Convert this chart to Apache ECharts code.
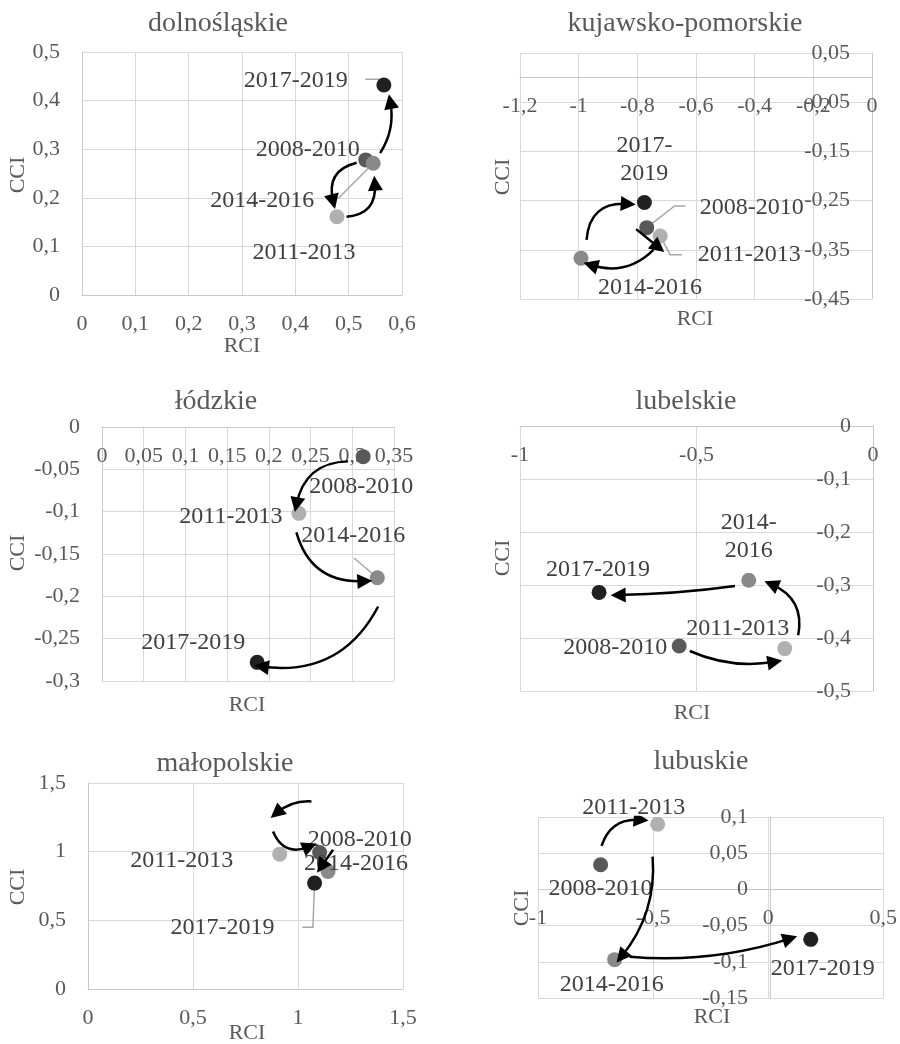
<!DOCTYPE html>
<html>
<head>
<meta charset="utf-8">
<script src="https://cdn.jsdelivr.net/npm/echarts@6/dist/echarts.min.js"></script>
<style>
html,body{margin:0;padding:0;background:#fff;}
#chart{width:900px;height:1044px;}
</style>
</head>
<body>
<div id="chart"></div>
<script>
// ---------- DATA ----------
const regions = ['dolnośląskie', 'kujawsko-pomorskie', 'łódzkie', 'lubelskie', 'małopolskie', 'lubuskie'];
const periods = ['2008-2010', '2011-2013', '2014-2016', '2017-2019'];

const rci_dolnoslaskie = [0.532, 0.478, 0.546, 0.566];
const cci_dolnoslaskie = [0.278, 0.161, 0.271, 0.432];
const rci_kujawsko = [-0.768, -0.722, -0.992, -0.776];
const cci_kujawsko = [-0.305, -0.322, -0.367, -0.254];
const rci_lodzkie = [0.313, 0.236, 0.330, 0.186];
const cci_lodzkie = [-0.035, -0.102, -0.178, -0.278];
const rci_lubelskie = [-0.549, -0.250, -0.352, -0.776];
const cci_lubelskie = [-0.415, -0.420, -0.291, -0.314];
const rci_malopolskie = [1.103, 0.913, 1.143, 1.079];
const cci_malopolskie = [0.994, 0.982, 0.856, 0.771];
const rci_lubuskie = [-0.728, -0.480, -0.667, 0.185];
const cci_lubuskie = [0.034, 0.090, -0.097, -0.069];

const rciAll = [rci_dolnoslaskie, rci_kujawsko, rci_lodzkie, rci_lubelskie, rci_malopolskie, rci_lubuskie];
const cciAll = [cci_dolnoslaskie, cci_kujawsko, cci_lodzkie, cci_lubelskie, cci_malopolskie, cci_lubuskie];

// axis scales (tick labels follow from these)
const xMin = [0, -1.2, 0, -1, 0, -1];
const xMax = [0.6, 0, 0.35, 0, 1.5, 0.5];
const xStep = [0.1, 0.2, 0.05, 0.5, 0.5, 0.5];
const yMin = [0, -0.45, -0.3, -0.5, 0, -0.15];
const yMax = [0.5, 0.05, 0, 0, 1.5, 0.1];
const yStep = [0.1, 0.1, 0.05, 0.1, 0.5, 0.05];

// ---------- LAYOUT / ANNOTATIONS ----------
const grids = [
  {left: 82, top: 52, width: 320, height: 243},
  {left: 520, top: 53, width: 352, height: 246},
  {left: 102, top: 427, width: 292, height: 254},
  {left: 520, top: 426, width: 353, height: 265},
  {left: 88, top: 783, width: 315, height: 206},
  {left: 538, top: 817, width: 348, height: 181}
];
const titlePos = [[218, 24], [685, 24], [216, 402], [686, 402], [225, 764], [701, 762]];
const rciNamePos = [[242, 346], [695, 319], [247, 705], [692, 713], [247, 1033], [712, 1017]];
const cciNamePos = [[18, 175], [503, 177], [18, 553], [503, 558], [18, 887], [522, 908]];

// label offsets (px) per period: 2008, 2011, 2014, 2017
const labelOffsets = [
  [[-58, -10], [-33, 36], [-111, 37], [-88, -4]],
  [[105, -20], [89, 19], [69, 30], [0, -43]],
  [[-2, 30], [-68, 3], [-24, -42], [-64, -20]],
  [[-64, 2], [-47, -20], [0, -44], [-1, -23]],
  [[40, -13], [-98, 7], [28, -8], [-92, 45]],
  [[0, 24], [-24, -17], [-3, 25], [12, 29]]
];
// which labels wrap on two lines [panel, period]
const wrapped = [[1, 3], [3, 2]];

// arrows: [x1, y1, x2, y2, curveness] in data coordinates
const arrows = [
  [[0.515, 0.272, 0.471, 0.192, -0.5], [0.496, 0.161, 0.549, 0.230, -0.5], [0.559, 0.292, 0.578, 0.398, -0.2]],
  [[-0.973, -0.330, -0.831, -0.257, 0.5], [-0.804, -0.308, -0.728, -0.345, 0], [-0.745, -0.350, -0.959, -0.381, 0.3]],
  [[0.295, -0.0406, 0.233, -0.0918, -0.4], [0.233, -0.1245, 0.315, -0.182, -0.4], [0.331, -0.212, 0.191, -0.283, 0.35]],
  [[-0.519, -0.4245, -0.278, -0.445, -0.15], [-0.212, -0.395, -0.288, -0.2985, -0.4], [-0.391, -0.302, -0.722, -0.319, 0.03]],
  [[1.064, 1.366, 0.897, 1.281, -0.2], [0.881, 1.147, 1.056, 1.038, -0.5], [1.167, 1.014, 1.111, 0.892, 0]],
  [[-0.724, 0.060, -0.552, 0.096, 0.4], [-0.502, 0.0454, -0.638, -0.093, 0.2], [-0.602, -0.093, 0.095, -0.068, -0.1]]
];
// leader lines (polylines, data coordinates)
const leaders = [
  [[[0.531, 0.444], [0.556, 0.444], [0.566, 0.432]], [[0.481, 0.199], [0.546, 0.271]]],
  [[[-0.768, -0.305], [-0.673, -0.261], [-0.636, -0.261]], [[-0.722, -0.322], [-0.688, -0.360], [-0.648, -0.360]]],
  [[[0.302, -0.1547], [0.330, -0.178]]],
  [],
  [[[1.079, 0.771], [1.071, 0.450], [1.021, 0.450]]],
  []
];

const pointColors = ['#595959', '#b0b0b0', '#898989', '#202020'];
const FONT = '"Liberation Serif", "Times New Roman", serif';

function fmt(v) {
  return String(+(+v).toFixed(4)).replace('.', ',');
}

function axis(min, max, step, grid, isX, offset) {
  return {
    type: 'value', gridIndex: grid, min: min, max: max, interval: step,
    position: isX ? 'bottom' : 'left',
    offset: offset,
    axisLine: {show: true, onZero: false, lineStyle: {color: '#c8c8c8', width: 1}},
    axisTick: {show: false},
    splitLine: {show: true, lineStyle: {color: '#d9d9d9', width: 1}},
    axisLabel: {fontFamily: FONT, fontSize: 22, color: '#595959', margin: isX ? 18 : 22, formatter: fmt}
  };
}

const xAxes = [], yAxes = [], series = [], graphics = [];
for (let p = 0; p < regions.length; p++) {
  const g = grids[p];
  // axes cross at value 0 of the other axis
  const xOff = -g.height * (0 - yMin[p]) / (yMax[p] - yMin[p]);
  const yOff = -g.width * (0 - xMin[p]) / (xMax[p] - xMin[p]);
  xAxes.push(axis(xMin[p], xMax[p], xStep[p], p, true, xOff));
  yAxes.push(axis(yMin[p], yMax[p], yStep[p], p, false, yOff));

  // leader lines
  if (leaders[p].length) {
    series.push({
      type: 'lines', coordinateSystem: 'cartesian2d', xAxisIndex: p, yAxisIndex: p,
      polyline: true, silent: true, z: 2,
      lineStyle: {color: '#a6a6a6', width: 1.5, opacity: 1},
      symbol: 'none',
      data: leaders[p].map(c => ({coords: c}))
    });
  }

  // points
  series.push({
    type: 'scatter', xAxisIndex: p, yAxisIndex: p, symbolSize: 15, z: 3,
    label: {show: true, position: 'inside', fontFamily: FONT, fontSize: 24, color: '#404040', lineHeight: 28},
    data: rciAll[p].map((x, i) => {
      const wrap = wrapped.some(w => w[0] === p && w[1] === i);
      return {
        value: [x, cciAll[p][i]],
        name: periods[i],
        itemStyle: {color: pointColors[i], opacity: 1},
        label: {offset: labelOffsets[p][i], formatter: wrap ? periods[i].replace('-', '-\n') : periods[i]}
      };
    })
  });

  // arrows
  series.push({
    type: 'lines', coordinateSystem: 'cartesian2d', xAxisIndex: p, yAxisIndex: p,
    silent: true, z: 4,
    symbol: ['none', 'triangle'], symbolSize: 15,
    lineStyle: {color: '#000000', width: 2.5, opacity: 1},
    data: arrows[p].map(a => ({coords: [[a[0], a[1]], [a[2], a[3]]], lineStyle: {curveness: a[4]}}))
  });

  graphics.push({type: 'text', x: titlePos[p][0], y: titlePos[p][1],
    style: {text: regions[p], font: '28px ' + FONT, fill: '#595959', align: 'center', verticalAlign: 'middle'}});
  graphics.push({type: 'text', x: rciNamePos[p][0], y: rciNamePos[p][1],
    style: {text: 'RCI', font: '22px ' + FONT, fill: '#595959', align: 'center', verticalAlign: 'middle'}});
  graphics.push({type: 'text', x: cciNamePos[p][0], y: cciNamePos[p][1], rotation: Math.PI / 2,
    style: {text: 'CCI', font: '22px ' + FONT, fill: '#595959', align: 'center', verticalAlign: 'middle'}});
}

const chart = echarts.init(document.getElementById('chart'), null, {renderer: 'canvas'});
chart.setOption({
  animation: false,
  backgroundColor: '#ffffff',
  grid: grids.map(g => Object.assign({containLabel: false}, g)),
  xAxis: xAxes,
  yAxis: yAxes,
  series: series,
  graphic: graphics
});
</script>
</body>
</html>
